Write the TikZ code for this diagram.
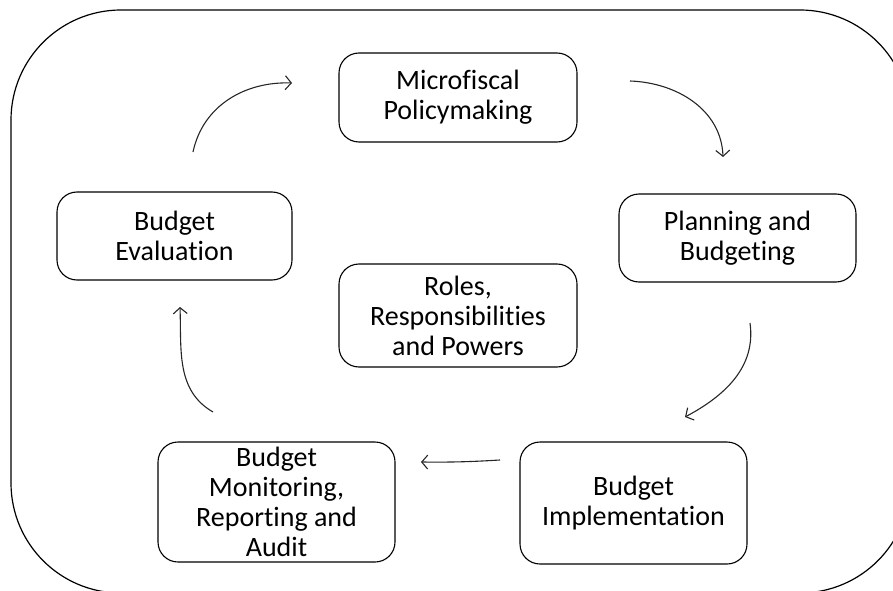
\documentclass[tikz,border=0pt]{standalone}
\usepackage{fontspec}
\setmainfont{Carlito}[Ligatures=NoCommon]
\usetikzlibrary{arrows.meta}

\begin{document}
\begin{tikzpicture}[x=1pt, y=1pt, > = {Straight Barb[length=6pt, width=14pt]}, line width=0.9pt]
        \tikzstyle{stage}=[rectangle, draw, rounded corners=20pt, align=center, inner sep=0pt, line width=1.1pt,
                           font=\fontsize{28}{30}\selectfont]
        \tikzstyle{flow}=[->, line width=1.1pt, draw=black!85]

            \useasboundingbox (0,0) rectangle (893,590);
            \clip (0,0) rectangle (893,590);

            % Rahmen
            \draw[line width=1.2pt, rounded corners=110pt] (11,580) rectangle (910,-3);

            % Knoten
            \node[stage, minimum width=238pt, minimum height=89pt] (policy) at (458,492.5) {Microfiscal\\Policymaking};
            \node[stage, minimum width=237pt, minimum height=88pt] (plan) at (737.5,352) {Planning and\\Budgeting};
            \node[stage, minimum width=235pt, minimum height=88pt] (eval) at (174.5,354) {Budget\\Evaluation};
            \node[stage, minimum width=238pt, minimum height=103pt] (roles) at (458,274.5) {Roles,\\Responsibilities\\and Powers};
            \node[stage, minimum width=237pt, minimum height=120pt] (monitor) at (276.5,88) {Budget\\Monitoring,\\Reporting and\\Audit};
            \node[stage, minimum width=227pt, minimum height=122pt] (impl) at (633.5,87) {Budget\\Implementation};

            % Pfeilenden
            \coordinate (a1) at (193,438);
            \coordinate (b1) at (292,507);
            \coordinate (a2) at (630,509);
            \coordinate (b2) at (723,433);
            \coordinate (a3) at (750,267);
            \coordinate (b3) at (685,173);
            \coordinate (a4) at (500,130);
            \coordinate (b4) at (421,128);
            \coordinate (a5) at (213,178);
            \coordinate (b5) at (180,283);

            % Pfeile
            \draw[flow] (a1) to[out=78, in=178] (b1);
            \draw[flow] (a2) to[out=-2, in=92] (b2);
            \draw[flow] (a3) to[out=-82, in=28] (b3);
            \draw[flow] (a4) to[bend left=2] (b4);
            \draw[flow] (a5) to[out=150, in=-88] (b5);
\end{tikzpicture}
\end{document}
